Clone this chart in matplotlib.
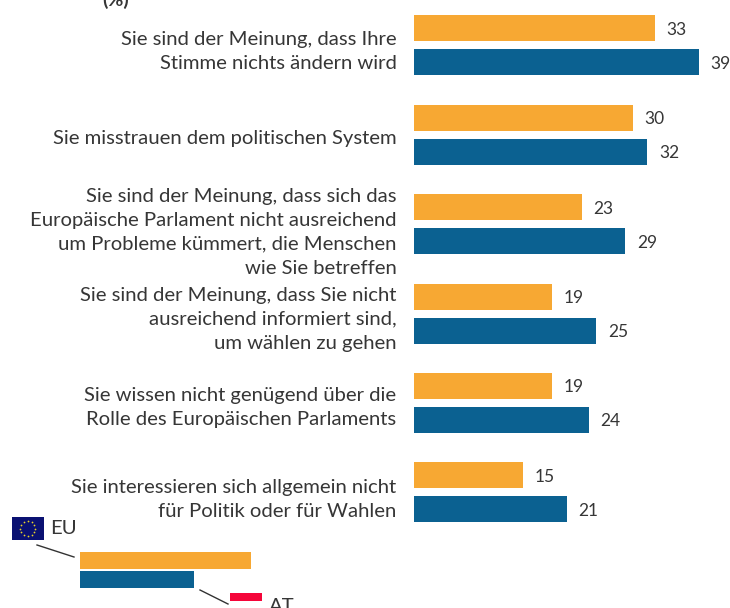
import matplotlib
matplotlib.use('Agg')
import matplotlib.pyplot as plt
import numpy as np

plt.rcParams['font.family'] = ['Lato', 'DejaVu Sans']

# Labels and values
categories = [
    'Sie sind der Meinung, dass Ihre\nStimme nichts ändern wird',
    'Sie misstrauen dem politischen System',
    'Sie sind der Meinung, dass sich das\nEuropäische Parlament nicht ausreichend\num Probleme kümmert, die Menschen\nwie Sie betreffen',
    'Sie sind der Meinung, dass Sie nicht\nausreichend informiert sind,\num wählen zu gehen',
    'Sie wissen nicht genügend über die\nRolle des Europäischen Parlaments',
    'Sie interessieren sich allgemein nicht\nfür Politik oder für Wahlen',
]
eu_values = [33, 30, 23, 19, 19, 15]
at_values = [39, 32, 29, 25, 24, 21]
legend_names = ['EU', 'AT']
legend_values = [23.4, 15.6]

ORANGE = '#F7A833'
BLUE = '#0B6191'
TEXT = '#363636'
W, H = 730, 608
PX_PER_UNIT = 7.31
PITCH = 89.4
LABEL_SHIFT = [6.5, 3.5, 8, 5.5, 5, 7]


def px_axes(fig, x0, y0, x1, y1):
    # axes from pixel box, y measured from the top of the image
    return fig.add_axes([x0 / W, 1 - y1 / H, (x1 - x0) / W, (y1 - y0) / H])


fig = plt.figure(figsize=(W / 100, H / 100), dpi=100)

# main bars: axes spans full height so the bars line up with the picture
ax = px_axes(fig, 413.5, 0, W, H)
ax.set_xlim(0, (W - 413.5) / PX_PER_UNIT)
ax.set_ylim(H, 0)
ax.axis('off')
ypos = 45.3 + np.arange(len(categories)) * PITCH
ax.barh(ypos - 17, eu_values, height=26, color=ORANGE)
ax.barh(ypos + 17, at_values, height=26, color=BLUE)

for y, e, a, label, shift in zip(ypos, eu_values, at_values, categories, LABEL_SHIFT):
    ax.text(e + 1.6, y - 15.5, str(e), va='center', ha='left', fontsize=12.5, color=TEXT)
    ax.text(a + 1.6, y + 18.5, str(a), va='center', ha='left', fontsize=12.5, color=TEXT)
    ax.annotate(label, xy=(0, y + shift), xytext=(-17, 0), textcoords='offset pixels',
                ha='right', va='center', fontsize=14.6, color=TEXT, linespacing=1.5,
                multialignment='right', annotation_clip=False)

# overlay for title remainder, legend texts and leader lines
over = fig.add_axes([0, 0, 1, 1])
over.set_xlim(0, W)
over.set_ylim(H, 0)
over.axis('off')
over.patch.set_alpha(0)
over.text(116, 0, '(%)', ha='center', va='center', fontsize=14, fontweight='bold', color=TEXT)
over.text(50, 529, legend_names[0], ha='left', va='center', fontsize=14.6, color=TEXT)
over.text(269, 607, legend_names[1], ha='left', va='center', fontsize=14.6, color=TEXT)
over.plot([37, 74], [545, 557], color='#333333', lw=1)
over.plot([200, 228], [590, 604], color='#333333', lw=1)

# legend bars
leg = px_axes(fig, 80, 550, 260, 590)
leg.set_xlim(0, 180 / PX_PER_UNIT)
leg.set_ylim(40, 0)
leg.axis('off')
leg.barh([10.5, 29], legend_values, height=[17, 17], color=[ORANGE, BLUE])

# EU flag
flag = px_axes(fig, 12, 517, 43.5, 540)
flag.set_facecolor('#0A1172')
flag.set_xlim(-1.37, 1.37)
flag.set_ylim(-1, 1)
flag.set_xticks([])
flag.set_yticks([])
for s in flag.spines.values():
    s.set_visible(False)
ang = np.deg2rad(np.arange(0, 360, 30))
flag.scatter(0.66 * np.cos(ang), 0.66 * np.sin(ang), s=1.6, color='#E8D22A', linewidths=0)

# AT flag, cut by the bottom of the picture
at = px_axes(fig, 230, 593, 262, 608)
at.set_xlim(0, 1)
at.set_ylim(15, 0)
at.axis('off')
at.barh([4], [1], height=8, color='#F5053A')

fig.savefig('out.png', dpi=100)
